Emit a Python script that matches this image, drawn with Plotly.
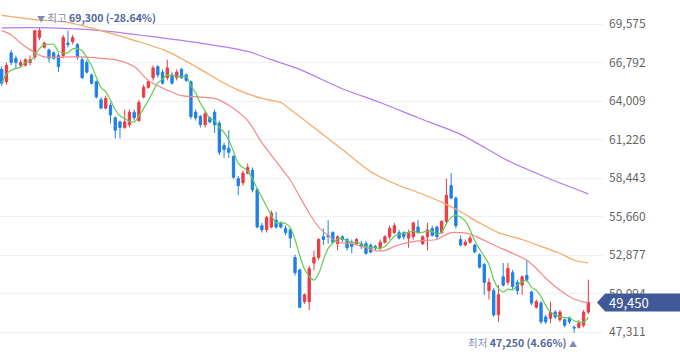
import plotly.graph_objects as go
import pandas as pd

# ---------------- data ----------------
open_ = [66300,65400,67500,67100,66600,66600,66800,67200,68600,67900,
         67700,67500,67300,67300,68200,68300,68100,67000,66800,65900,
         65400,64100,63500,63700,62800,62500,62100,62300,63200,62600,
         64300,65000,65700,66500,66100,65700,65900,65700,66300,65900,
         65400,63200,62900,62300,62800,63200,62400,60800,60600,60000,
         58400,58100,58800,59000,57600,55000,54700,54900,55400,55200,
         54800,54700,52700,51800,49500,49500,52300,52700,54200,54300,
         54500,53700,54200,54000,53800,53700,53700,53700,53600,53500,
         53400,53800,54200,54500,54500,54500,54100,54200,54900,53700,
         54200,54800,54900,54500,55300,57900,57000,54000,53600,53800,
         53600,52900,52200,50300,50300,48550,51300,50900,51600,50900,
         50700,51400,50200,49100,49400,48400,48300,48750,48200,48200,
         48300,47650,47650,47800,48750]
high = [66500,66800,67700,67300,67000,67100,67300,69100,69300,68300,
        67800,67600,67500,68800,69100,68800,68200,67200,67000,66000,
        65500,64300,64400,63900,62900,62600,63400,63400,63400,64100,
        65200,65500,66600,66600,66300,67000,66100,66300,66400,66000,
        65500,63400,63000,63300,62900,63400,62600,61000,61900,60100,
        58600,59000,59500,59200,57700,55200,55700,56100,56000,55300,
        55000,54800,52900,51900,50100,52100,53200,54100,54800,55400,
        54600,54300,54300,54100,54000,54100,53900,53900,53700,53600,
        54000,54300,55000,55200,54700,54600,54700,55300,55400,54300,
        55200,55000,55000,55400,58400,58800,57100,54300,54000,54300,
        53700,53000,52300,51200,50500,50700,52300,52300,51800,51100,
        51400,52500,50300,49650,49550,48550,49500,48900,48900,48300,
        48450,47800,48200,48900,51100]
low = [65100,65200,66600,66400,66500,66500,66600,67000,68400,67800,
       66800,67000,66100,67100,67900,68100,67000,65600,66000,65200,
       64200,63400,63400,62400,61300,61300,62000,62100,62600,62500,
       64200,64900,65500,65700,65200,65500,65200,65500,65600,65400,
       62700,62600,62100,62100,62400,61700,60100,59900,59900,58400,
       57200,57900,58700,57400,54800,54500,54500,54800,54800,54800,
       54300,53400,51400,49050,49350,48900,51800,52500,53600,53700,
       53700,53200,53800,53200,53000,53600,53300,52900,53000,53200,
       53200,53700,54000,54400,54000,54000,53400,54000,54400,53600,
       53200,54200,54000,54400,55100,56900,54800,53500,53500,53700,
       53000,51900,50000,49650,48400,48050,50600,50700,50400,50000,
       50000,50900,49250,49000,47900,47900,47950,48250,48050,47650,
       47900,47250,47550,47650,48600]
close = [65300,66600,66800,66800,66800,67000,67000,69100,69100,68200,
         67100,67100,66500,68600,68100,68600,67200,65700,66100,65300,
         64300,63500,64200,63000,61900,62100,62500,63200,62800,63900,
         65000,65400,66400,65900,65300,66400,65300,66100,65700,65500,
         62900,62800,62300,63100,62500,62300,60300,60500,60300,58500,
         57900,58800,59200,57600,54900,54700,55600,55900,54900,54900,
         54500,54100,51600,49100,50000,51900,52700,54000,54000,54200,
         53800,54200,54000,53400,53500,54000,53500,53000,53100,53400,
         53800,54200,54800,55000,54100,54200,54500,55200,54500,54200,
         54700,54300,54200,55300,57200,57000,55000,53600,53800,54100,
         53100,52000,50900,50900,48550,50000,50700,51900,50600,50300,
         51300,51100,49400,49500,48050,48050,48750,48400,48750,47800,
         48050,47600,47950,48750,49450]

# moving averages that need history before the visible window
ma20_idx = [0,2,4,7,9,14,17,21,24,28,31,35,38,42,45,48,52,55,59,61,63,65,67,69,71,74,77,79,81,
            83,85,88,92,93,95,97,99,101,104,108,111,113,115,117,119,121,124]
ma20_val = [69100,68800,68200,67500,67200,67200,67200,67100,67000,66500,65500,64800,64400,64300,
            64200,63700,62600,61000,59200,58300,57100,55900,54900,54300,53800,53700,53400,53200,
            53200,53500,53700,53900,54000,54200,54500,54500,54400,54100,53600,53000,52500,51900,
            51200,50600,50100,49700,49400]
ma60_idx = [0,7,14,21,28,35,42,46,50,55,59,61,66,72,78,84,88,93,97,101,105,110,114,118,121,124]
ma60_val = [70200,69900,69700,69100,68400,67600,66300,65500,64800,64200,63900,63400,62100,60500,
            58900,57900,57400,56700,56000,55200,54500,54000,53500,53000,52500,52300]
ma120_idx = [0,10,21,31,42,52,57,63,72,80,88,97,107,115,124]
ma120_val = [69300,69300,69100,68700,68200,67600,67000,66300,64900,63900,62800,61600,59700,58500,57300]

ytick_vals = [47311, 50094, 52877, 55660, 58443, 61226, 64009, 66792, 69575]

# ---------------- styling ----------------
RED = "#ec3b43"
BLUE = "#1e80e8"
FONT = "Noto Sans CJK KR, Noto Sans, sans-serif"

x = list(range(len(close)))
ma5 = pd.Series(close).rolling(5, min_periods=1).mean().tolist()

fig = go.Figure()
fig.add_trace(go.Candlestick(
    x=x, open=open_, high=high, low=low, close=close,
    increasing=dict(line=dict(color=RED, width=1), fillcolor=RED),
    decreasing=dict(line=dict(color=BLUE, width=1), fillcolor=BLUE),
    whiskerwidth=0, hoverinfo="skip"))

for xs, ys, col in [(ma120_idx, ma120_val, "#b27cf2"),
                    (ma60_idx, ma60_val, "#f6a963"),
                    (ma20_idx, ma20_val, "#f58a8a"),
                    (x, ma5, "#63cc52")]:
    fig.add_trace(go.Scatter(x=xs, y=ys, mode="lines",
                             line=dict(color=col, width=1.2, shape="spline", smoothing=0.8),
                             hoverinfo="skip"))

last = close[-1]
hi = max(high)
lo = min(low)
ihi = high.index(hi)
ilo = low.index(lo)

LBL = dict(family=FONT, size=10.5, color="#5266a0")
fig.add_annotation(
    x=ihi, y=hi, xref="x", yref="y", xanchor="left", yanchor="bottom",
    xshift=-5, yshift=1, showarrow=False,
    text=f"<span style='color:#7f8cb6;font-size:8px'>▼</span> <span style='color:#7f8cb6'>최고</span> <b>{hi:,} ({(last/hi-1)*100:.2f}%)</b>",
    font=LBL)
fig.add_annotation(
    x=ilo, y=lo, xref="x", yref="y", xanchor="right", yanchor="top",
    xshift=5, yshift=0, showarrow=False,
    text=f"<span style='color:#7f8cb6'>최저</span> <b>{lo:,} ({(last/lo-1)*100:.2f}%)</b> <span style='color:#7f8cb6;font-size:8px'>▲</span>",
    font=LBL)

# last price tag
h = 650
tip, bx, rx = 0.990, 1.0035, 1.14
fig.add_shape(type="path", xref="paper", yref="y", layer="above",
              path=f"M {tip},{last} L {bx},{last+h} L {rx},{last+h} L {rx},{last-h} L {bx},{last-h} Z",
              fillcolor="#3f5a97", line=dict(width=0))
fig.add_annotation(x=bx, y=last, xref="paper", yref="y", xanchor="left", yanchor="middle",
                   xshift=2, showarrow=False, text=f"{last:,}",
                   font=dict(family=FONT, size=13, color="white"))

fig.update_layout(
    width=680, height=358,
    margin=dict(l=0, r=77, t=0, b=0),
    plot_bgcolor="white", paper_bgcolor="white",
    showlegend=False,
    font=dict(family=FONT),
    xaxis=dict(range=[-0.36, 127.1], visible=False, rangeslider=dict(visible=False),
               showgrid=False, zeroline=False),
    yaxis=dict(range=[45432, 71315], side="right", tickvals=ytick_vals,
               ticktext=[f"{v:,}" for v in ytick_vals],
               gridcolor="#eff1f6", gridwidth=1, zeroline=False, showline=False,
               tickfont=dict(family=FONT, size=12, color="#666666"),
               ticklabelstandoff=5, fixedrange=True),
)

fig.write_html("out.html", config={"displayModeBar": False},
               post_script="document.body.style.margin='0';")
